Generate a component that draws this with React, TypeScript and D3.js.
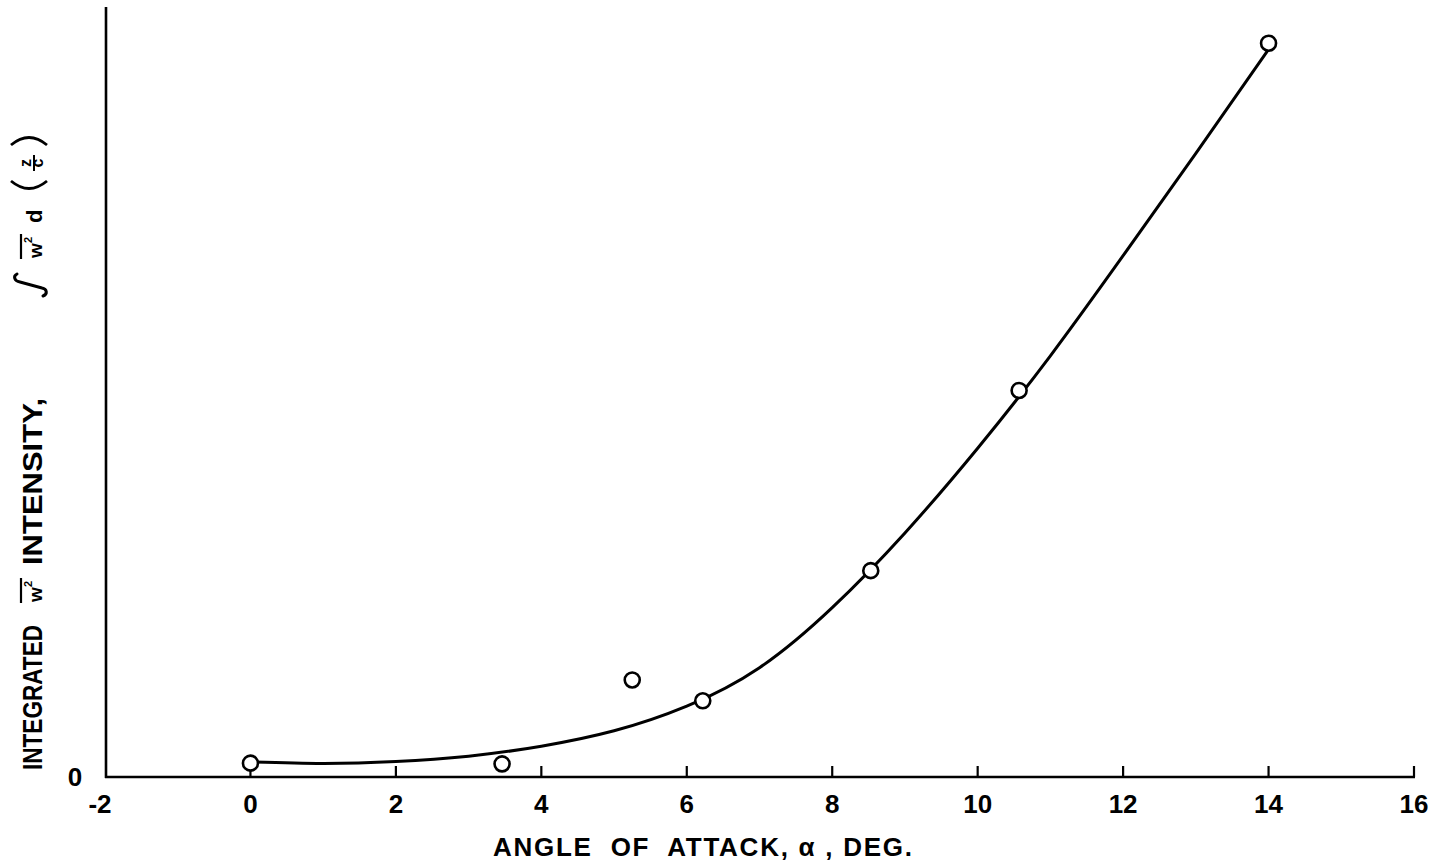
import React from "react";
import * as d3 from "d3";

const W = 1437;
const H = 867;

// measured points: angle of attack (deg) vs integrated w^2 intensity (arbitrary units)
const pointAlpha = [0, 3.46, 5.25, 6.22, 8.53, 10.57, 14.0];
const pointValue = [0.18, 0.17, 1.26, 0.99, 2.68, 5.02, 9.53];

// faired curve
const curveAlpha = [0, 1, 2, 3, 4, 5, 6, 7, 8, 9, 10, 11, 12, 13, 14];
const curveValue = [0.195, 0.175, 0.2, 0.27, 0.4, 0.6, 0.92, 1.42, 2.2, 3.17, 4.27, 5.47, 6.77, 8.1, 9.45];

const xTicks = [-2, 0, 2, 4, 6, 8, 10, 12, 14, 16];
const xTickLabels = ["-2", "0", "2", "4", "6", "8", "10", "12", "14", "16"];

const FONT = "'Liberation Sans', Arial, sans-serif";

function WBar({ at }: { at: number }) {
  return (
    <g transform={`translate(${at},0)`}>
      <text x={1} y={0} fontSize={19} fontWeight="bold">w</text>
      <text x={16} y={-10} fontSize={11} fontWeight="bold">2</text>
      <line x1={0} x2={25} y1={-21} y2={-21} stroke="#000" strokeWidth={2.2} />
    </g>
  );
}

export default function App() {
  const x = d3.scaleLinear().domain([-2, 16]).range([105, 1414]);
  const y = d3.scaleLinear().domain([0, 10]).range([777, 7]);

  const line = d3
    .line<number>()
    .x((_, i) => x(curveAlpha[i]))
    .y((d) => y(d))
    .curve(d3.curveNatural);

  const x0 = x(-2);
  const yBase = y(0);

  return (
    <svg
      width={W}
      height={H}
      style={{ position: "absolute", left: 0, top: 0, background: "#fff" }}
      fontFamily={FONT}
    >
      <rect width={W} height={H} fill="#fff" />
      {/* axes */}
      <line x1={x0} y1={yBase} x2={x(16) + 1} y2={yBase} stroke="#000" strokeWidth={2.6} />
      <line x1={x0 + 1} y1={yBase + 1} x2={x0 + 1} y2={y(10)} stroke="#000" strokeWidth={2.6} />
      {xTicks.slice(1).map((t) => (
        <line key={t} x1={x(t)} x2={x(t)} y1={yBase} y2={yBase - 11} stroke="#000" strokeWidth={2.2} />
      ))}
      {xTicks.map((t, i) => (
        <text
          key={t}
          x={x(t) - (t < 0 ? 5 : 0)}
          y={813}
          textAnchor="middle"
          fontSize={26}
          fontWeight="bold"
        >
          {xTickLabels[i]}
        </text>
      ))}
      <text x={75} y={786} textAnchor="middle" fontSize={26} fontWeight="bold">
        0
      </text>

      {/* x label */}
      <text
        x={493}
        y={856}
        fontSize={26}
        fontWeight="bold"
        textLength={419}
        lengthAdjust="spacing"
        style={{ whiteSpace: "pre" }}
      >
        {"ANGLE  OF  ATTACK, α , DEG."}
      </text>

      {/* y label */}
      <g transform="translate(42,0) rotate(-90)" fontWeight="bold">
        <text x={-770} y={0} fontSize={27} textLength={145} lengthAdjust="spacingAndGlyphs">
          INTEGRATED
        </text>
        <WBar at={-603} />
        <text x={-565} y={0} fontSize={27} textLength={167} lengthAdjust="spacingAndGlyphs">
          INTENSITY,
        </text>
        <path
          d="M -296,1 C -294,6 -289,5 -288,0 L -282,-22 C -281,-28 -276,-29 -274,-25"
          fill="none"
          stroke="#000"
          strokeWidth={3}
          strokeLinecap="round"
        />
        <WBar at={-259} />
        <text x={-223} y={0} fontSize={22}>d</text>
        <g>
          <path d="M -181,-31 Q -196,-13 -181,5" fill="none" stroke="#000" strokeWidth={2.8} />
          <text x={-163} y={-11} fontSize={16} textAnchor="middle">z</text>
          <line x1={-171} x2={-155} y1={-8} y2={-8} stroke="#000" strokeWidth={2} />
          <text x={-163} y={1} fontSize={16} textAnchor="middle">c</text>
          <path d="M -145,-31 Q -130,-13 -145,5" fill="none" stroke="#000" strokeWidth={2.8} />
        </g>
      </g>

      {/* curve */}
      <path d={line(curveValue) || ""} fill="none" stroke="#000" strokeWidth={3} />

      {/* points */}
      {pointValue.map((v, i) => (
        <circle
          key={i}
          cx={x(pointAlpha[i])}
          cy={y(v)}
          r={7.5}
          fill="#fff"
          stroke="#000"
          strokeWidth={2.6}
        />
      ))}
    </svg>
  );
}
